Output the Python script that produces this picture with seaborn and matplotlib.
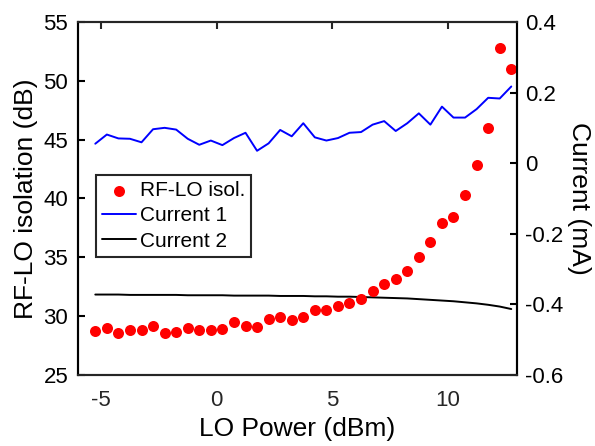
import numpy as np
import pandas as pd
import matplotlib
matplotlib.use("Agg")
import matplotlib.pyplot as plt
import seaborn as sns
from matplotlib.ticker import FuncFormatter

# -------------------------------------
# Podaci (očitano s grafa)
# -------------------------------------
lo_power = [-5.25, -4.75, -4.25, -3.75, -3.25, -2.75, -2.25, -1.75, -1.25, -0.75,
            -0.25, 0.25, 0.75, 1.25, 1.75, 2.25, 2.75, 3.25, 3.75, 4.25,
            4.75, 5.25, 5.75, 6.25, 6.75, 7.25, 7.75, 8.25, 8.75, 9.25,
            9.75, 10.25, 10.75, 11.25, 11.75, 12.25, 12.75]

rf_lo_isol = [28.75, 29.0, 28.6, 28.8, 28.85, 29.15, 28.6, 28.7, 29.0, 28.8,
              28.8, 28.9, 29.5, 29.2, 29.1, 29.8, 29.95, 29.7, 29.95, 30.5,
              30.5, 30.9, 31.15, 31.5, 32.1, 32.7, 33.15, 33.8, 35.0, 36.3,
              37.9, 38.4, 40.3, 42.85, 46.0, 52.75, 51.0]

current_1 = [0.055, 0.081, 0.070, 0.069, 0.059, 0.096, 0.100, 0.095, 0.069, 0.052,
             0.064, 0.051, 0.071, 0.086, 0.035, 0.056, 0.094, 0.076, 0.113, 0.073,
             0.064, 0.071, 0.086, 0.088, 0.109, 0.119, 0.091, 0.113, 0.141, 0.109,
             0.160, 0.129, 0.129, 0.153, 0.185, 0.183, 0.217]

current_2 = [-0.372, -0.372, -0.372, -0.373, -0.373, -0.373, -0.373, -0.373, -0.374, -0.374,
             -0.374, -0.374, -0.375, -0.375, -0.375, -0.375, -0.376, -0.376, -0.376, -0.377,
             -0.377, -0.378, -0.378, -0.379, -0.380, -0.381, -0.382, -0.383, -0.385, -0.387,
             -0.389, -0.391, -0.394, -0.397, -0.401, -0.406, -0.413]

x_ticks = [-5, 0, 5, 10]
left_ticks = [25, 30, 35, 40, 45, 50, 55]
right_ticks = [-0.6, -0.4, -0.2, 0, 0.2, 0.4]

df = pd.DataFrame({"lo": lo_power, "isol": rf_lo_isol, "c1": current_1, "c2": current_2})

sns.set_style("white")
plt.rcParams["font.family"] = ["Liberation Sans", "DejaVu Sans"]
plt.rcParams["axes.unicode_minus"] = False
plt.rcParams["text.color"] = "black"
plt.rcParams["axes.labelcolor"] = "black"
plt.rcParams["xtick.color"] = "black"
plt.rcParams["ytick.color"] = "black"

fig = plt.figure(figsize=(5.95, 4.46), dpi=100)
ax = fig.add_axes([0.131, 0.159, 0.738, 0.792])
ax2 = ax.twinx()

# -------------------------------------
# Crtanje
# -------------------------------------
sns.scatterplot(data=df, x="lo", y="isol", ax=ax, color="#ff0000", s=63,
                linewidth=0, label="RF-LO isol.", legend=False)
sns.lineplot(data=df, x="lo", y="c1", ax=ax2, color="#0000ff", lw=1.4,
             label="Current 1", legend=False, sort=False)
sns.lineplot(data=df, x="lo", y="c2", ax=ax2, color="black", lw=1.4,
             label="Current 2", legend=False, sort=False)

ax.set_zorder(ax2.get_zorder() + 1)
ax.patch.set_visible(False)

ax.set_xlim(-6, 13)
ax.set_ylim(25, 55)
ax2.set_ylim(-0.6, 0.4)
ax.set_xticks(x_ticks)
ax.set_yticks(left_ticks)
ax2.set_yticks(right_ticks)
ax2.yaxis.set_major_formatter(FuncFormatter(lambda v, p: "%g" % round(v, 2)))

ax.set_xlabel("LO Power (dBm)", fontsize=19)
ax.set_ylabel("RF-LO isolation (dB)", fontsize=19, labelpad=4)
ax2.set_ylabel("Current (mA)", fontsize=19, rotation=270, labelpad=20)

for a in (ax, ax2):
    for side in ("top", "bottom"):
        a.spines[side].set_color("#262626")
        a.spines[side].set_linewidth(1.5)
    a.spines["left"].set_color("black")
    a.spines["right"].set_color("black")
    a.spines["left"].set_linewidth(1.5)
    a.spines["right"].set_linewidth(1.5)

ax.tick_params(axis="x", direction="in", length=5, width=1.5, top=True, color="#262626",
               labelcolor="#262626", labelsize=16, pad=11)
ax.tick_params(axis="y", direction="in", length=5, width=1.5, left=True, right=False,
               labelsize=16, pad=7)
ax2.tick_params(axis="y", direction="in", length=5, width=1.5, right=True, left=False,
                labelsize=16, pad=6)

# zajednička legenda
h1, l1 = ax.get_legend_handles_labels()
h2, l2 = ax2.get_legend_handles_labels()
leg = ax.legend(h1 + h2, l1 + l2, loc="upper left", bbox_to_anchor=(0.041, 0.567),
                borderaxespad=0, fontsize=15, frameon=True, fancybox=False,
                handlelength=1.6, handletextpad=0.2, labelspacing=0.3, borderpad=0.3,
                framealpha=1)
leg.get_frame().set_edgecolor("#262626")
leg.get_frame().set_linewidth(1.5)

fig.savefig("out.png", dpi=100)
